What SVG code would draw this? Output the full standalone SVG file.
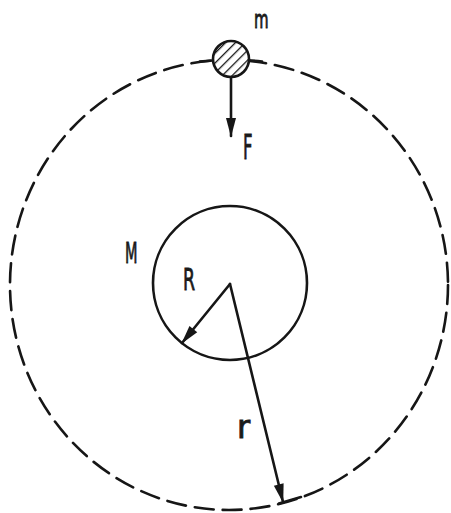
<svg xmlns="http://www.w3.org/2000/svg" width="451" height="513" viewBox="0 0 451 513">
<style>
.ln{fill:none;stroke:#161616;stroke-width:2.6;stroke-linecap:round}
.lbl{font-family:"DejaVu Sans","Liberation Sans",sans-serif;fill:#1a1a1a;stroke:#1a1a1a;stroke-width:0.9}
</style>
<defs>
<marker id="ah" markerUnits="userSpaceOnUse" markerWidth="24" markerHeight="14" viewBox="-20 -7 22 14" refX="0" refY="0" orient="auto">
<path d="M1,0 L-18,-5 L-18,5 Z" fill="#161616"/>
</marker>
<pattern id="hatch" patternUnits="userSpaceOnUse" width="7" height="7" patternTransform="rotate(45)">
<line x1="0" y1="0" x2="0" y2="7" stroke="#161616" stroke-width="2.6"/>
</pattern>
<clipPath id="mclip"><circle cx="231" cy="59" r="18"/></clipPath>
</defs>
<rect width="451" height="513" fill="#ffffff"/>
<g id="orbit">
<ellipse class="ln" cx="229" cy="285" rx="219" ry="225" stroke-dasharray="19 9"/>
<path class="ln" d="M200,61.5 Q231,58 262,61.5"/>
<path class="ln" d="M279,503.5 L301,497"/>
</g>
<g id="node-M">
<circle class="ln" cx="230" cy="283" r="77"/>
<text class="lbl" font-size="29" transform="translate(125,263) scale(0.5,1)">M</text>
</g>
<g id="node-m">
<circle cx="231" cy="59" r="18" fill="#ffffff"/>
<rect x="210" y="38" width="42" height="42" fill="url(#hatch)" clip-path="url(#mclip)"/>
<circle class="ln" cx="231" cy="59" r="18" stroke-width="3"/>
<text class="lbl" font-size="25" transform="translate(254,28) scale(0.6,1)">m</text>
</g>
<g id="connectors">
<line class="ln" x1="231" y1="77" x2="231" y2="136" marker-end="url(#ah)"/>
<line class="ln" x1="230" y1="284" x2="182" y2="343" marker-end="url(#ah)"/>
<line class="ln" x1="230" y1="284" x2="283" y2="502" marker-end="url(#ah)"/>
</g>
<text class="lbl" font-size="33" transform="translate(243,159) scale(0.5,1)">F</text>
<text class="lbl" font-size="31" transform="translate(183,290) scale(0.56,1)">R</text>
<text class="lbl" font-size="32" stroke-width="0.5" transform="translate(237,438) scale(1.0,1)">r</text>
</svg>
